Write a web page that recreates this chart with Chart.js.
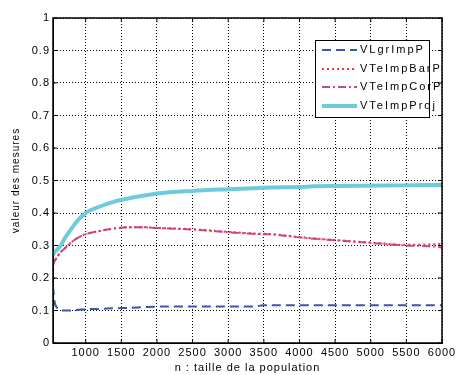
<!DOCTYPE html>
<html>
<head>
<meta charset="utf-8">
<script src="https://cdn.jsdelivr.net/npm/chart.js@4/dist/chart.umd.min.js"></script>
<style>
  html, body { margin: 0; padding: 0; background: #fff; }
  #wrap { width: 459px; height: 375px; }
</style>
</head>
<body>
<div id="wrap"><canvas id="chart"></canvas></div>
<script>
"use strict";

const SERIES_LABELS = ["VLgrImpP", "VTeImpBarP", "VTeImpCorP", "VTeImpProj"];
const X_VALUES = [541, 560, 600, 650, 700, 800, 900, 1000, 1200, 1400, 1600, 1800, 2000,
  2500, 3000, 3350, 3450, 3500, 4000, 4200, 4500, 5000, 5500, 5800, 6000];
const V_LGR = [0.175, 0.13, 0.108, 0.102, 0.100, 0.100, 0.102, 0.104, 0.105, 0.107, 0.108, 0.110, 0.112,
  0.112, 0.112, 0.112, 0.115, 0.116, 0.116, 0.116, 0.116, 0.116, 0.116, 0.116, 0.116];
const V_BAR = [0.24, 0.25, 0.265, 0.28, 0.29, 0.31, 0.325, 0.335, 0.345, 0.352, 0.356, 0.356, 0.354,
  0.350, 0.342, 0.337, 0.336, 0.336, 0.326, 0.322, 0.317, 0.309, 0.302, 0.303, 0.305];
const V_COR = [0.24, 0.25, 0.265, 0.28, 0.29, 0.31, 0.325, 0.335, 0.345, 0.352, 0.356, 0.356, 0.354,
  0.349, 0.341, 0.336, 0.335, 0.335, 0.325, 0.321, 0.316, 0.308, 0.300, 0.298, 0.294];
const V_PROJ = [0.27, 0.278, 0.288, 0.30, 0.32, 0.352, 0.38, 0.40, 0.42, 0.435, 0.445, 0.453, 0.46,
  0.468, 0.473, 0.476, 0.477, 0.478, 0.480, 0.482, 0.483, 0.484, 0.485, 0.486, 0.486];
const X_TICKS = [1000, 1500, 2000, 2500, 3000, 3500, 4000, 4500, 5000, 5500, 6000];
const Y_TICKS = [0, 0.1, 0.2, 0.3, 0.4, 0.5, 0.6, 0.7, 0.8, 0.9, 1];

const STYLE = [
  { color: "#3b55a9", dash: [9, 5], width: 2 },
  { color: "#f2343f", dash: [2, 3], width: 2 },
  { color: "#b64fa2", dash: [8, 3, 2, 3], width: 2 },
  { color: "#6ecbdc", dash: [], width: 4 },
];

const FONT = "Arial, 'Liberation Sans', sans-serif";

function points(ys) {
  return X_VALUES.map((x, i) => ({ x, y: ys[i] }));
}

const spacing = {
  id: "spacing",
  beforeDraw(chart) { chart.ctx.letterSpacing = "1px"; },
};

const frame = {
  id: "frame",
  afterDatasetsDraw(chart) {
    const { ctx, chartArea: a, scales } = chart;
    ctx.save();
    ctx.letterSpacing = "0px";
    ctx.strokeStyle = "#000";
    ctx.lineWidth = 1.5;
    ctx.setLineDash([]);
    ctx.strokeRect(a.left, a.top, a.right - a.left, a.bottom - a.top);
    // inward ticks, MATLAB style
    ctx.lineWidth = 1;
    ctx.beginPath();
    for (const v of Y_TICKS) {
      const y = scales.y.getPixelForValue(v);
      ctx.moveTo(a.left, y); ctx.lineTo(a.left + 4, y);
      ctx.moveTo(a.right, y); ctx.lineTo(a.right - 4, y);
    }
    for (const v of X_TICKS) {
      const x = scales.x.getPixelForValue(v);
      ctx.moveTo(x, a.bottom); ctx.lineTo(x, a.bottom - 4);
      ctx.moveTo(x, a.top); ctx.lineTo(x, a.top + 4);
    }
    ctx.stroke();
    ctx.restore();
  },
};

const boxLegend = {
  id: "boxLegend",
  afterDraw(chart) {
    const { ctx } = chart;
    const x0 = 315, y0 = 40, w = 114, h = 77;
    ctx.save();
    ctx.setLineDash([]);
    ctx.fillStyle = "#fff";
    ctx.fillRect(x0, y0, w, h);
    ctx.strokeStyle = "#000";
    ctx.lineWidth = 1;
    ctx.strokeRect(x0 + 0.5, y0 + 0.5, w, h);
    const rows = [50, 69, 87, 106];
    chart.data.datasets.forEach((ds, i) => {
      const y = rows[i];
      ctx.strokeStyle = ds.borderColor;
      ctx.lineWidth = ds.borderWidth;
      ctx.setLineDash(ds.borderDash || []);
      ctx.beginPath();
      ctx.moveTo(322, y);
      ctx.lineTo(357, y);
      ctx.stroke();
      ctx.setLineDash([]);
      ctx.fillStyle = "#000";
      ctx.font = "11px " + FONT;
      ctx.letterSpacing = "2px";
      ctx.textBaseline = "middle";
      ctx.textAlign = "left";
      ctx.fillText(ds.label, 360, y);
    });
    ctx.restore();
  },
};

const datasets = [V_LGR, V_BAR, V_COR, V_PROJ].map((ys, i) => ({
  label: SERIES_LABELS[i],
  data: points(ys),
  borderColor: STYLE[i].color,
  borderWidth: STYLE[i].width,
  borderDash: STYLE[i].dash,
  pointRadius: 0,
  cubicInterpolationMode: "monotone",
  fill: false,
}));
// draw the solid cyan first so the others sit on top
datasets[3].order = 4;

new Chart(document.getElementById("chart"), {
  type: "line",
  data: { datasets },
  plugins: [spacing, frame, boxLegend],
  options: {
    responsive: true,
    maintainAspectRatio: false,
    animation: false,
    layout: { padding: { top: 18, right: 17, left: 0, bottom: 0 } },
    plugins: { legend: { display: false }, tooltip: { enabled: false } },
    scales: {
      x: {
        type: "linear",
        min: 541,
        max: 6000,
        afterBuildTicks: (s) => { s.ticks = X_TICKS.map((v) => ({ value: v })); },
        afterFit: (s) => { s.height = 32; },
        grid: { color: "#000", drawTicks: false, tickLength: 0 },
        border: { display: true, color: "#000", width: 1, dash: [1, 2] },
        ticks: {
          color: "#000", padding: 3, maxRotation: 0, font: { family: FONT, size: 11 },
          callback: (v) => String(v),
        },
        title: {
          display: true,
          text: "n : taille de la population",
          color: "#000",
          padding: { top: 0, bottom: 0 },
          font: { family: FONT, size: 11 },
        },
      },
      y: {
        min: 0,
        max: 1,
        afterBuildTicks: (s) => { s.ticks = Y_TICKS.map((v) => ({ value: v })); },
        afterFit: (s) => { s.width = 53; },
        grid: { color: "#000", drawTicks: false, tickLength: 0 },
        border: { display: true, color: "#000", width: 1, dash: [1, 2] },
        ticks: {
          color: "#000", padding: 3, font: { family: FONT, size: 11 },
          callback: (v) => String(v),
        },
        title: {
          display: true,
          text: "valeur des mesures",
          color: "#000",
          padding: { top: 10, bottom: 0 },
          font: { family: FONT, size: 10 },
        },
      },
    },
  },
});
</script>
</body>
</html>
